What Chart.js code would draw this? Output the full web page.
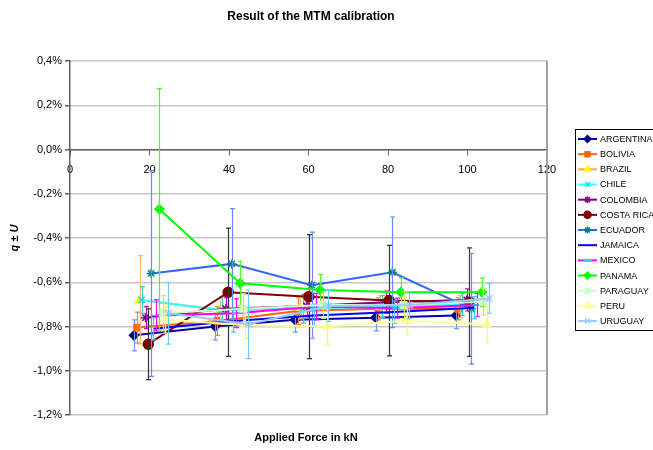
<!DOCTYPE html>
<html lang="en">
<head>
    <meta charset="UTF-8">
    <title>Result of the MTM calibration</title>
    <style>
        body {
            margin: 0;
            background: #ffffff;
        }
        .chart-box {
            position: relative;
            width: 653px;
            height: 450px;
        }
    </style>
</head>
<body>
    <div class="chart-box">
        <canvas id="mtmChart" width="653" height="450"></canvas>
    </div>
    <script src="https://cdn.jsdelivr.net/npm/chart.js"></script>
    <script>
        // values (q in %, force in kN, U = half length of the error bar in %)
        const countries = ['ARGENTINA', 'BOLIVIA', 'BRAZIL', 'CHILE', 'COLOMBIA', 'COSTA RICA', 'ECUADOR',
                           'JAMAICA', 'MEXICO', 'PANAMA', 'PARAGUAY', 'PERU', 'URUGUAY'];

        const forces = [
            [16.1, 36.5, 56.6, 76.9, 97.1],
            [16.9, 37.1, 57.3, 77.6, 97.7],
            [17.5, 37.7, 57.9, 78.0, 98.1],
            [18.0, 38.2, 58.5, 78.6, 98.7],
            [19.0, 39.2, 59.5, 79.6, 99.8],
            [19.7, 39.8, 60.1, 80.3, 100.5],
            [20.4, 40.7, 60.8, 81.1, 101.0],
            [21.0, 41.1, 61.4, 81.5, 101.7],
            [21.7, 41.8, 62.0, 82.2, 102.4],
            [22.5, 42.8, 62.9, 83.2, 103.6],
            [23.5, 43.6, 63.7, 83.9, 104.0],
            [24.0, 44.0, 64.6, 84.7, 104.8],
            [24.7, 44.9, 65.0, 85.4, 105.5]
        ];

        const qValues = [
            [-0.84, -0.80, -0.77, -0.76, -0.75],
            [-0.805, -0.775, -0.73, -0.72, -0.72],
            [-0.68, -0.725, -0.716, -0.712, -0.71],
            [-0.68, -0.725, -0.72, -0.71, -0.70],
            [-0.76, -0.72, -0.707, -0.69, -0.68],
            [-0.88, -0.645, -0.665, -0.683, -0.69],
            [-0.56, -0.517, -0.613, -0.555, -0.72],
            [-0.81, -0.775, -0.75, -0.735, -0.715],
            [-0.75, -0.74, -0.71, -0.717, -0.703],
            [-0.27, -0.605, -0.635, -0.645, -0.645],
            [-0.74, -0.72, -0.703, -0.703, -0.688],
            [-0.77, -0.793, -0.80, -0.774, -0.79],
            [-0.74, -0.79, -0.707, -0.703, -0.673]
        ];

        const uValues = [
            [0.07, 0.06, 0.055, 0.06, 0.06],
            [0.07, 0.065, 0.06, 0.05, 0.05],
            [0.20, 0.05, 0.05, 0.05, 0.05],
            [0.06, 0.06, 0.065, 0.05, 0.05],
            [0.05, 0.05, 0.05, 0.05, 0.05],
            [0.16, 0.29, 0.28, 0.25, 0.245],
            [0.465, 0.25, 0.24, 0.25, 0.25],
            [0.05, 0.05, 0.05, 0.05, 0.05],
            [0.07, 0.065, 0.06, 0.045, 0.053],
            [0.545, 0.10, 0.07, 0.065, 0.065],
            [0.08, 0.07, 0.06, 0.06, 0.06],
            [0.06, 0.06, 0.08, 0.06, 0.08],
            [0.14, 0.155, 0.07, 0.06, 0.067]
        ];

        const yTicks = [0.4, 0.2, 0.0, -0.2, -0.4, -0.6, -0.8, -1.0, -1.2];
        const xTicks = [0, 20, 40, 60, 80, 100, 120];

        // look of each series
        const lineColors = ['#0000B0', '#FF6600', '#FFA64D', '#33FFFF', '#800080', '#800000', '#3366FF',
                            '#0000FF', '#FF00FF', '#00FF00', '#CCFFCC', '#FFFF99', '#99CCFF'];
        const markerColors = ['#000080', '#FF6600', '#FFFF00', '#00E5E5', '#800080', '#800000', '#008080',
                              '#0000FF', '#33CCFF', '#00FF00', '#CCFFCC', '#FFFF99', '#99CCFF'];
        const markerStyles = ['rectRot', 'rect', 'triangle', 'crossRot', 'star', 'circle', 'star',
                              false, 'line', 'rectRot', 'rect', 'triangle', 'crossRot'];
        const errColors = ['#6699FF', '#FF8040', '#FFB870', '#33CCCC', '#CC00CC', '#333333', '#6688FF',
                           '#33CCFF', '#FF00FF', '#44FF22', '#CCEE44', '#FFFF44', '#66CCFF'];

        const datasets = countries.map((name, i) => ({
            label: name,
            data: forces[i].map((f, j) => ({ x: f, y: qValues[i][j] })),
            borderColor: lineColors[i],
            backgroundColor: markerColors[i],
            pointStyle: markerStyles[i],
            pointRadius: markerStyles[i] ? (markerStyles[i] === 'circle' ? 5 : 4.5) : 0,
            pointBackgroundColor: markerColors[i],
            pointBorderColor: markerColors[i],
            pointBorderWidth: 1.5,
            borderWidth: 2,
            showLine: true,
            fill: false,
            tension: 0,
            order: countries.length - i
        }));

        // error bars, drawn right after their own series
        const errorBars = {
            id: 'errorBars',
            afterDatasetDraw(chart, args) {
                const i = args.index;
                const ctx = chart.ctx;
                const xs = chart.scales.x;
                const ys = chart.scales.y;
                ctx.save();
                ctx.strokeStyle = errColors[i];
                ctx.lineWidth = 1.2;
                forces[i].forEach((f, j) => {
                    const px = Math.round(xs.getPixelForValue(f)) + 0.5;
                    const top = ys.getPixelForValue(qValues[i][j] + uValues[i][j]);
                    const bot = ys.getPixelForValue(qValues[i][j] - uValues[i][j]);
                    ctx.beginPath();
                    ctx.moveTo(px, top);
                    ctx.lineTo(px, bot);
                    ctx.moveTo(px - 2.5, top);
                    ctx.lineTo(px + 2.5, top);
                    ctx.moveTo(px - 2.5, bot);
                    ctx.lineTo(px + 2.5, bot);
                    ctx.stroke();
                });
                ctx.restore();
            }
        };

        // titles, right frame line and the boxed legend
        const decorations = {
            id: 'decorations',
            afterDraw(chart) {
                const ctx = chart.ctx;
                const area = chart.chartArea;
                ctx.save();

                ctx.strokeStyle = '#A0A0A0';
                ctx.lineWidth = 2;
                ctx.beginPath();
                ctx.moveTo(area.right, area.top);
                ctx.lineTo(area.right, area.bottom);
                ctx.stroke();

                ctx.fillStyle = '#000';
                ctx.textAlign = 'center';
                ctx.textBaseline = 'middle';
                ctx.font = 'bold 12px "Liberation Sans", Arial, sans-serif';
                ctx.fillText('Result of the MTM calibration', 311, 17);
                ctx.font = 'bold 11px "Liberation Sans", Arial, sans-serif';
                ctx.fillText('Applied Force in kN', 306, 438);

                // legend
                const lx = 575, ly = 129, step = 15.17;
                ctx.fillStyle = '#fff';
                ctx.fillRect(lx, ly, 90, 201);
                ctx.strokeStyle = '#000';
                ctx.lineWidth = 1;
                ctx.strokeRect(lx + 0.5, ly + 0.5, 90, 201);
                ctx.font = '9px "Liberation Sans", Arial, sans-serif';
                ctx.textAlign = 'left';
                chart.data.datasets.forEach((ds, i) => {
                    const y = ly + 10 + i * step;
                    ctx.strokeStyle = ds.borderColor;
                    ctx.lineWidth = 2;
                    ctx.beginPath();
                    ctx.moveTo(lx + 3, y);
                    ctx.lineTo(lx + 22, y);
                    ctx.stroke();
                    if (ds.pointStyle) {
                        ctx.fillStyle = ds.pointBackgroundColor;
                        ctx.strokeStyle = ds.pointBorderColor;
                        ctx.lineWidth = ds.pointStyle === 'line' ? 3 : 1.5;
                        Chart.helpers.drawPoint(ctx, {
                            pointStyle: ds.pointStyle,
                            radius: ds.pointStyle === 'line' ? 4 : 3.5,
                            borderWidth: ctx.lineWidth,
                            rotation: 0
                        }, lx + 12.5, y);
                    }
                    ctx.fillStyle = '#000';
                    ctx.fillText(ds.label, lx + 25, y + 0.5);
                });
                ctx.restore();
            }
        };

        function pct(v) {
            return v.toFixed(1).replace('-0.0', '0.0').replace('.', ',') + '%';
        }

        new Chart(document.getElementById('mtmChart'), {
            type: 'scatter',
            data: { datasets: datasets },
            options: {
                responsive: false,
                animation: false,
                layout: { padding: { top: 61, right: 106, bottom: 35, left: 0 } },
                plugins: {
                    legend: { display: false },
                    tooltip: { enabled: false }
                },
                scales: {
                    x: {
                        type: 'linear',
                        position: { y: 0 },
                        min: 0,
                        max: 120,
                        afterBuildTicks: (scale) => { scale.ticks = xTicks.map(v => ({ value: v })); },
                        ticks: {
                            color: '#000',
                            font: { family: '"Liberation Sans", Arial, sans-serif', size: 11 },
                            padding: 9,
                            maxRotation: 0
                        },
                        grid: { drawOnChartArea: false, tickLength: 5, color: '#606060' },
                        border: { color: '#606060', width: 1.5 }
                    },
                    y: {
                        min: -1.2,
                        max: 0.4,
                        afterBuildTicks: (scale) => { scale.ticks = yTicks.map(v => ({ value: v })); },
                        afterFit: (scale) => { scale.width = 70; },
                        ticks: {
                            color: '#000',
                            font: { family: '"Liberation Sans", Arial, sans-serif', size: 11 },
                            padding: 3,
                            callback: (v) => pct(v)
                        },
                        grid: { color: '#C8C8C8', lineWidth: 1.5, tickLength: 5, tickColor: '#606060' },
                        border: { color: '#606060', width: 1.5 },
                        title: {
                            display: true,
                            text: 'q ± U',
                            color: '#000',
                            font: { family: '"Liberation Sans", Arial, sans-serif', size: 11, weight: 'bold', style: 'italic' },
                            padding: { top: 8, bottom: 0 }
                        }
                    }
                }
            },
            plugins: [errorBars, decorations]
        });
    </script>
</body>
</html>
